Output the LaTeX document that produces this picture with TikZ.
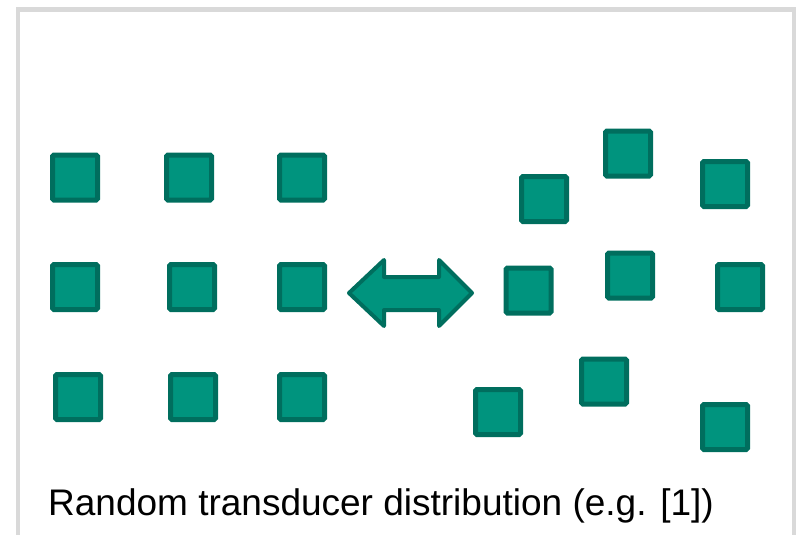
\documentclass[tikz,border=0pt]{standalone}
\usepackage{fontspec}
\setmainfont{Liberation Sans}
\usepackage{xcolor}
\usepackage{tikz}

\definecolor{tfill}{RGB}{0,148,126}
\definecolor{tline}{RGB}{0,110,94}
\definecolor{frame}{RGB}{217,217,217}

\tikzset{
  elem/.style={draw=tline, fill=tfill, line width=5pt, rounded corners=1.5pt,
    minimum size=45pt, inner sep=0pt}
}

\begin{document}
\begin{tikzpicture}[x=1pt, y=-1pt]
\useasboundingbox (0,0) rectangle (796,535);

% Draw frame (open at the bottom)
\draw[frame, line width=4.5pt] (18,540) -- (18,9.5) -- (794.5,9.5) -- (794.5,540);

% Regular grid of transducers
\node[elem] (g11) at (75,177.5) {};
\node[elem] (g12) at (189,177.5) {};
\node[elem] (g13) at (302,177.5) {};
\node[elem] (g21) at (75,287) {};
\node[elem] (g22) at (192,287) {};
\node[elem] (g23) at (302,287) {};
\node[elem] (g31) at (78,397) {};
\node[elem] (g32) at (193,397) {};
\node[elem] (g33) at (302,397) {};

% Random placement of transducers
\node[elem] (r1) at (544,199) {};
\node[elem] (r2) at (628,153.5) {};
\node[elem] (r3) at (725,184) {};
\node[elem] (r4) at (528.5,290.5) {};
\node[elem] (r5) at (630,275.5) {};
\node[elem] (r6) at (740,287) {};
\node[elem] (r7) at (498,412) {};
\node[elem] (r8) at (604,381.5) {};
\node[elem] (r9) at (725,427) {};

% Double arrow between the two layouts
\filldraw[draw=tline, fill=tfill, line width=4pt, line join=round]
  (349,293) -- (384,260) -- (384,277) -- (439,277) -- (439,260) -- (472,293)
  -- (439,326) -- (439,310) -- (384,310) -- (384,326) -- cycle;

% Caption
\node[anchor=base west, inner sep=0pt, font=\fontsize{37}{44}\selectfont] (cap)
  at (48,515) {Random transducer distribution (e.g. [1])};
\end{tikzpicture}
\end{document}
